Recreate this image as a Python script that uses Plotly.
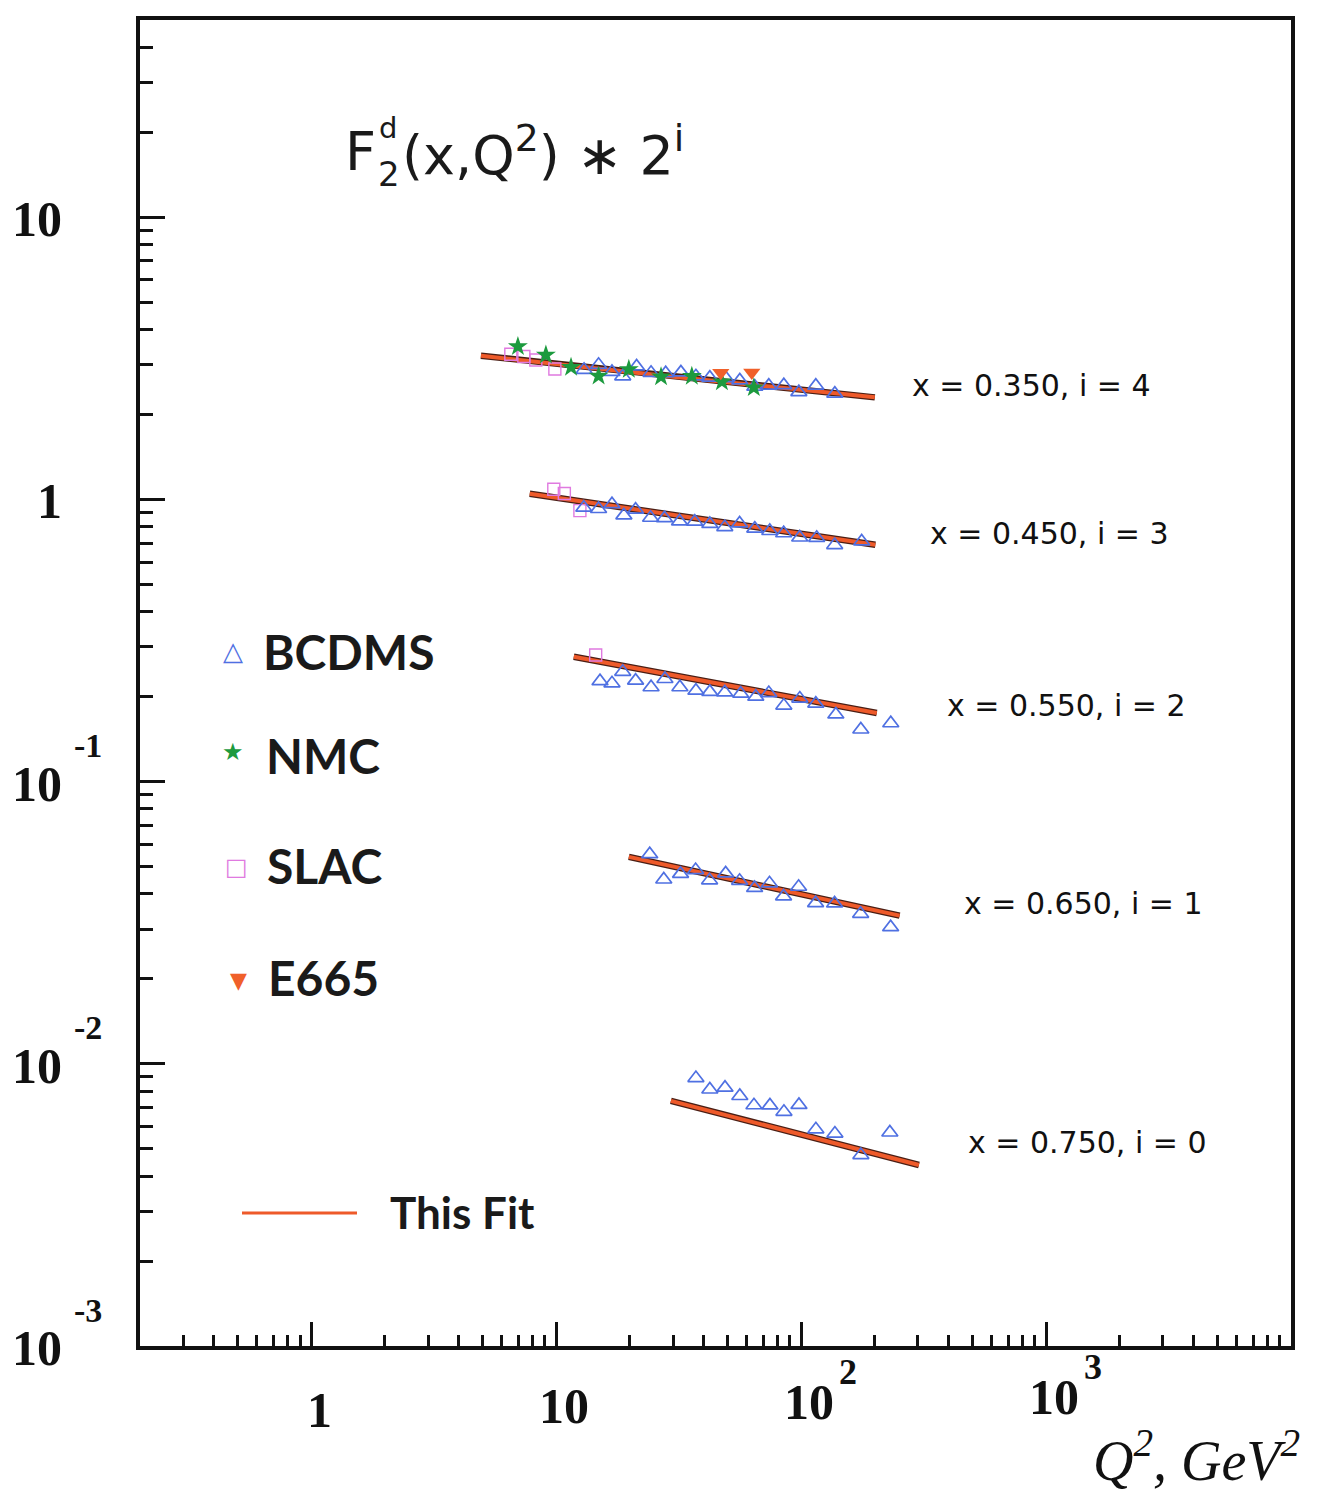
import math
import plotly.graph_objects as go

# ---------------------------------------------------------------
# Deuteron structure function F2^d(x, Q^2) scaled by 2^i
# ---------------------------------------------------------------

# x = 0.350, i = 4
bcdms_q2_035 = [13.0, 14.9, 16.9, 18.7, 21.3, 24.4, 28.0, 32.3, 37.2, 42.4,
                49.3, 56.2, 64.7, 73.8, 85.0, 97.9, 114.8, 137.3]
bcdms_f2_035 = [2.88, 3.00, 2.83, 2.73, 2.96, 2.81, 2.80, 2.82, 2.73, 2.70,
                2.69, 2.64, 2.51, 2.53, 2.54, 2.40, 2.53, 2.37]
nmc_q2_035 = [6.98, 9.08, 11.5, 14.9, 19.8, 26.8, 35.8, 47.5, 64.1]
nmc_f2_035 = [3.48, 3.25, 2.94, 2.74, 2.89, 2.72, 2.73, 2.61, 2.49]
slac_q2_035 = [6.53, 7.38, 8.26, 9.88]
slac_f2_035 = [3.27, 3.21, 3.12, 2.90]
e665_q2_035 = [47.0, 62.9]
e665_f2_035 = [2.81, 2.82]
fit_q2_035 = [4.93, 28.8, 200.0]
fit_f2_035 = [3.23, 2.73, 2.30]

# x = 0.450, i = 3
bcdms_q2_045 = [12.97, 14.9, 16.9, 18.9, 21.1, 24.3, 27.7, 31.9, 36.8, 42.4,
                48.8, 56.1, 64.7, 74.5, 84.9, 98.7, 115.8, 137.1, 176.7]
bcdms_f2_045 = [0.935, 0.925, 0.962, 0.878, 0.920, 0.861, 0.858, 0.836, 0.834, 0.819,
                0.798, 0.822, 0.788, 0.773, 0.759, 0.733, 0.731, 0.689, 0.710]
slac_q2_045 = [9.78, 10.8, 12.5]
slac_f2_045 = [1.087, 1.050, 0.913]
fit_q2_045 = [7.8, 201.0]
fit_f2_045 = [1.047, 0.691]

# x = 0.550, i = 2
bcdms_q2_055 = [15.1, 16.9, 18.7, 21.1, 24.4, 27.8, 32.0, 37.2, 42.4, 48.8,
                56.7, 65.3, 73.8, 85.0, 98.8, 114.8, 138.6, 175.3, 232.3]
bcdms_f2_055 = [0.227, 0.223, 0.245, 0.228, 0.216, 0.231, 0.216, 0.210, 0.208, 0.207,
                0.205, 0.200, 0.206, 0.186, 0.197, 0.189, 0.173, 0.153, 0.161]
slac_q2_055 = [14.5]
slac_f2_055 = [0.281]
fit_q2_055 = [11.8, 203.7]
fit_f2_055 = [0.277, 0.175]

# x = 0.650, i = 1
bcdms_q2_065 = [24.1, 27.5, 32.2, 37.1, 42.3, 49.2, 56.1, 64.6, 74.3, 84.8,
                97.7, 114.6, 137.0, 175.0, 232.0]
bcdms_f2_065 = [0.0553, 0.0450, 0.0471, 0.0486, 0.0447, 0.0473, 0.0445, 0.0420, 0.0436, 0.0392,
                0.0424, 0.0371, 0.0370, 0.0340, 0.0305]
fit_q2_065 = [19.8, 252.5]
fit_f2_065 = [0.0541, 0.0335]

# x = 0.750, i = 0
bcdms_q2_075 = [37.2, 42.4, 48.9, 56.2, 64.2, 74.6, 85.1, 98.0, 114.9, 137.4, 175.4, 230.3]
bcdms_f2_075 = [0.00890, 0.00811, 0.00823, 0.00769, 0.00713, 0.00712, 0.00676, 0.00715,
                0.00586, 0.00566, 0.00475, 0.00571]
fit_q2_075 = [29.4, 302.7]
fit_f2_075 = [0.00739, 0.00438]

bin_labels = ["x = 0.350, i = 4", "x = 0.450, i = 3", "x = 0.550, i = 2",
              "x = 0.650, i = 1", "x = 0.750, i = 0"]
legend_names = ["BCDMS", "NMC", "SLAC", "E665"]
fit_name = "This Fit"

x_tick_base = ["1", "10", "10", "10"]
x_tick_exp = ["", "", "2", "3"]
y_tick_base = ["10", "1", "10", "10", "10"]
y_tick_exp = ["", "", "-1", "-2", "-3"]

# ---------------------------------------------------------------
# Styling
# ---------------------------------------------------------------
W, H = 1318, 1497
ML, MR, MT, MB = 140, 27, 20, 151
PW, PH = W - ML - MR, H - MT - MB

C_BCDMS = "#4f70e2"
C_NMC = "#1c9a3e"
C_SLAC = "#e07ae0"
C_E665 = "#f0602a"
C_FIT = "#ee5a2a"
C_FIT_EDGE = "#4a1e14"
C_TEXT = "#1a1a1a"


def px(xp):
    return (xp - ML) / PW


def py(yp):
    return (MT + PH - yp) / PH


fig = go.Figure()


def add_fit(q2, f2):
    fig.add_trace(go.Scatter(x=q2, y=f2, mode="lines",
                             line=dict(color=C_FIT_EDGE, width=6.5),
                             hoverinfo="skip"))
    fig.add_trace(go.Scatter(x=q2, y=f2, mode="lines",
                             line=dict(color=C_FIT, width=4),
                             hoverinfo="skip"))


def add_points(q2, f2, symbol, color, size, line_width=0):
    fig.add_trace(go.Scatter(
        x=q2, y=f2, mode="markers",
        marker=dict(symbol=symbol, size=size, color=color,
                    line=dict(color=color, width=line_width))))


for fq, ff in [(fit_q2_035, fit_f2_035), (fit_q2_045, fit_f2_045),
               (fit_q2_055, fit_f2_055), (fit_q2_065, fit_f2_065),
               (fit_q2_075, fit_f2_075)]:
    add_fit(fq, ff)

for sq, sf in [(slac_q2_035, slac_f2_035), (slac_q2_045, slac_f2_045),
               (slac_q2_055, slac_f2_055)]:
    add_points(sq, sf, "square-open", C_SLAC, 12, 1.4)

for bq, bf in [(bcdms_q2_035, bcdms_f2_035), (bcdms_q2_045, bcdms_f2_045),
               (bcdms_q2_055, bcdms_f2_055), (bcdms_q2_065, bcdms_f2_065),
               (bcdms_q2_075, bcdms_f2_075)]:
    add_points(bq, bf, "triangle-up-open", C_BCDMS, 14, 1.7)

add_points(nmc_q2_035, nmc_f2_035, "star", C_NMC, 15)
add_points(e665_q2_035, e665_f2_035, "triangle-down", C_E665, 15)

annotations = []

# Title, built from pieces so that the superscript d sits above the subscript 2
title_font = dict(family="DejaVu Sans", size=54, color=C_TEXT)
annotations.append(dict(
    xref="paper", yref="paper", x=px(343), y=py(152), xanchor="left", yanchor="middle",
    text="F", showarrow=False, font=title_font))
annotations.append(dict(
    xref="paper", yref="paper", x=px(376), y=py(174), xanchor="left", yanchor="middle",
    text="2", showarrow=False, font=dict(family="DejaVu Sans", size=34, color=C_TEXT)))
annotations.append(dict(
    xref="paper", yref="paper", x=px(377), y=py(128), xanchor="left", yanchor="middle",
    text="d", showarrow=False, font=dict(family="DejaVu Sans", size=29, color=C_TEXT)))
annotations.append(dict(
    xref="paper", yref="paper", x=px(400), y=py(152), xanchor="left", yanchor="middle",
    text="(x,Q<sup>2</sup>) ∗ 2<sup>i</sup>", showarrow=False, font=title_font))

# Bin labels
label_pos = [(910, 385), (928, 533), (945, 706), (962, 903), (966, 1142)]
for txt, (lx, ly) in zip(bin_labels, label_pos):
    annotations.append(dict(
        xref="paper", yref="paper", x=px(lx), y=py(ly), xanchor="left", yanchor="middle",
        text=txt, showarrow=False,
        font=dict(family="DejaVu Sans", size=30, color="#111111")))

# Legend keys
key_glyphs = ["△", "★", "□", "▼"]
key_colors = [C_BCDMS, C_NMC, C_SLAC, C_E665]
key_sizes = [26, 24, 24, 22]
key_pos = [(233, 651), (233, 752), (236, 867), (238, 980)]
key_text_pos = [(261, 651), (264, 755), (265, 866), (266, 977)]
for g, c, s, (gx, gy), name, (tx, ty) in zip(key_glyphs, key_colors, key_sizes, key_pos,
                                              legend_names, key_text_pos):
    annotations.append(dict(
        xref="paper", yref="paper", x=px(gx), y=py(gy), xanchor="center", yanchor="middle",
        text=g, showarrow=False, font=dict(family="DejaVu Sans", size=s, color=c)))
    annotations.append(dict(
        xref="paper", yref="paper", x=px(tx), y=py(ty), xanchor="left", yanchor="middle",
        text="<b>%s</b>" % name, showarrow=False,
        font=dict(family="Lato", size=48, color=C_TEXT)))

annotations.append(dict(
    xref="paper", yref="paper", x=px(388), y=py(1212), xanchor="left", yanchor="middle",
    text="<b>%s</b>" % fit_name, showarrow=False,
    font=dict(family="Lato", size=44, color=C_TEXT)))

# Axis tick labels
serif = "Liberation Serif"
x_tick_vals = [0, 1, 2, 3]
x_label_y = [1410, 1406, 1402, 1397]
for v, b, e, ly in zip(x_tick_vals, x_tick_base, x_tick_exp, x_label_y):
    annotations.append(dict(
        xref="x", yref="paper", x=v, y=py(ly), xanchor="center", yanchor="middle",
        xshift=8, text="<b>%s</b>" % b, showarrow=False,
        font=dict(family=serif, size=50, color="#111111")))
    if e:
        annotations.append(dict(
            xref="x", yref="paper", x=v, y=py(ly - 30), xanchor="left", yanchor="middle",
            xshift=36, text="<b>%s</b>" % e, showarrow=False,
            font=dict(family=serif, size=36, color="#111111")))

y_tick_vals = [1, 0, -1, -2, -3]
for v, b, e in zip(y_tick_vals, y_tick_base, y_tick_exp):
    annotations.append(dict(
        xref="paper", yref="y", x=px(64), y=v, xanchor="right", yanchor="middle",
        yshift=-2, text="<b>%s</b>" % b, showarrow=False,
        font=dict(family=serif, size=50, color="#111111")))
    if e:
        annotations.append(dict(
            xref="paper", yref="y", x=px(72), y=v, xanchor="left", yanchor="middle",
            yshift=36, text="<b>%s</b>" % e, showarrow=False,
            font=dict(family=serif, size=34, color="#111111")))

# Axis title
annotations.append(dict(
    xref="paper", yref="paper", x=px(1302), y=py(1456), xanchor="right", yanchor="middle",
    text="<i>Q<sup>2</sup>, GeV<sup>2</sup></i>", showarrow=False,
    font=dict(family=serif, size=56, color="#111111")))

shapes = [dict(type="line", xref="paper", yref="paper",
               x0=px(242), x1=px(357), y0=py(1213), y1=py(1213),
               line=dict(color=C_FIT, width=3))]

axis_common = dict(
    type="log", showline=True, mirror=True, linewidth=4, linecolor="#111111",
    ticks="inside", tickwidth=3, tickcolor="#111111", dtick=1,
    showticklabels=False, showgrid=False, zeroline=False,
)

fig.update_layout(
    width=W, height=H,
    margin=dict(l=ML, r=MR, t=MT, b=MB),
    paper_bgcolor="white", plot_bgcolor="white",
    showlegend=False,
    xaxis=dict(axis_common, range=[math.log10(0.2), 4], ticklen=24,
               minor=dict(ticks="inside", ticklen=11, tickwidth=3,
                          tickcolor="#111111", dtick="D1", showgrid=False)),
    yaxis=dict(axis_common, range=[-3, math.log10(50)], ticklen=25,
               minor=dict(ticks="inside", ticklen=13, tickwidth=3,
                          tickcolor="#111111", dtick="D1", showgrid=False)),
    annotations=annotations,
    shapes=shapes,
)

fig.write_html("out.html")
